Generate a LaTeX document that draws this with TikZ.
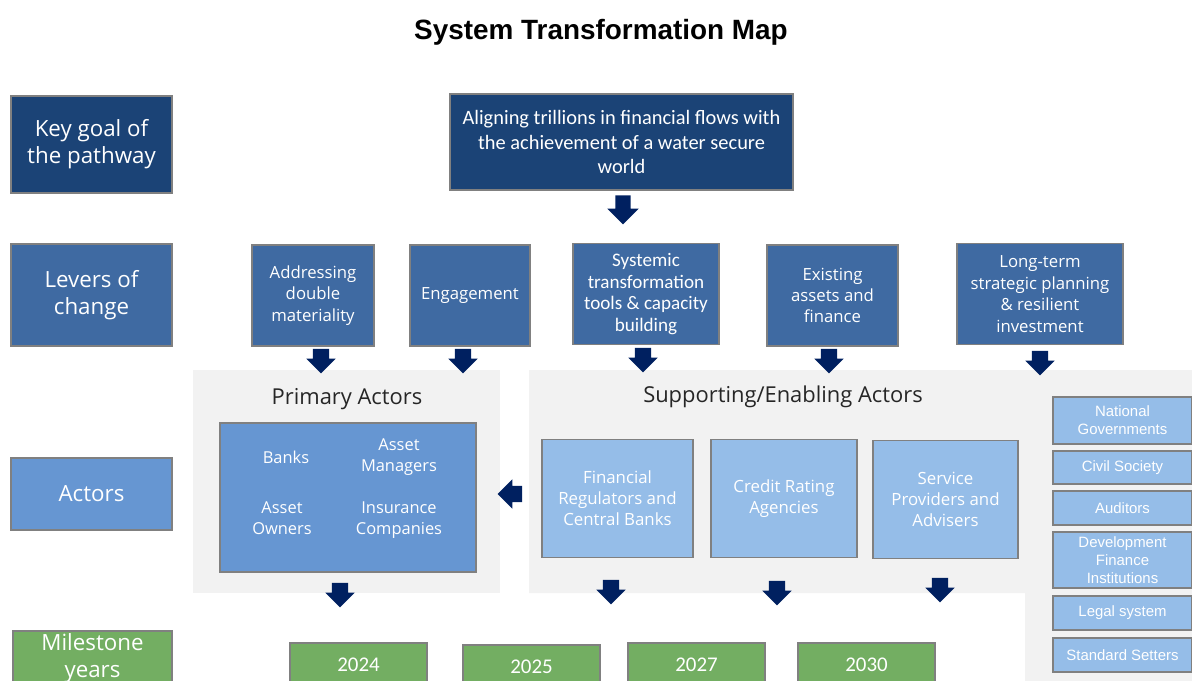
\documentclass[tikz,border=0pt]{standalone}
\usepackage{fontspec}
\setmainfont{Open Sans}
\newfontfamily\calfont{Carlito}
\newfontfamily\arfont{Liberation Sans}
\usetikzlibrary{
  shapes.arrows,
  positioning
}
\definecolor{goalblue}{RGB}{27,67,118}
\definecolor{leverblue}{RGB}{63,106,162}
\definecolor{actorblue}{RGB}{102,150,210}
\definecolor{lightblue}{RGB}{149,189,232}
\definecolor{milegreen}{RGB}{115,174,98}
\definecolor{arrowblue}{RGB}{0,32,96}
\definecolor{panelgray}{RGB}{242,242,242}
\definecolor{edgegray}{RGB}{128,128,128}

\begin{document}
\begin{tikzpicture}[x=1bp,y=-1bp,
      box/.style={
         rectangle,
         draw=edgegray,
         line width=1.2bp,
         inner sep=2bp,
         align=center,
         text=white
      },
      rowlabel/.style={
         box,
         minimum width=161bp,
         font=\fontsize{22.4}{27}\selectfont
      },
      lever/.style={
         box,
         fill=leverblue,
         minimum height=101bp,
         font=\fontsize{16.8}{21.5}\selectfont
      },
      support/.style={
         box,
         fill=lightblue,
         minimum height=118bp,
         font=\fontsize{16.9}{21}\selectfont
      },
      rcbox/.style={
         box,
         fill=lightblue,
         minimum width=139bp,
         inner sep=1bp,
         font=\arfont\fontsize{15}{18}\selectfont
      },
      year/.style={
         box,
         fill=milegreen,
         minimum width=137bp,
         minimum height=44bp,
         font=\calfont\fontsize{21}{24}\selectfont
      },
      itemtext/.style={
         align=center,
         text=white,
         inner sep=0pt,
         font=\fontsize{16.5}{21}\selectfont
      },
      paneltitle/.style={
         text=black!85,
         inner sep=0pt,
         font=\fontsize{22}{26}\selectfont
      },
      blkarrow/.style={
         single arrow,
         fill=arrowblue,
         inner sep=8bp,
         single arrow head extend=6.5bp,
         minimum height=24bp
      },
      darr/.style={blkarrow, rotate=-90},
      larr/.style={blkarrow, rotate=180}
    ]
  \useasboundingbox (0,0) rectangle (1192,681);
  % grey panels behind the actors
  \fill[panelgray] (193,370) rectangle (500,593);
  \fill[panelgray] (529,370) -- (1192,370) -- (1192,690) -- (1025,690)
     -- (1025,593) -- (529,593) -- cycle;

  \node[font=\arfont\bfseries\fontsize{28}{32}\selectfont] (title) at (601,32) {System Transformation Map};

  % row labels
  \node[rowlabel, fill=goalblue, minimum height=97bp] (keygoal) at (91.5,144.5) {Key goal of\\the pathway};
  \node[rowlabel, fill=leverblue, minimum height=102bp] (levers) at (91.5,295) {Levers of\\change};
  \node[rowlabel, fill=actorblue, minimum height=72bp] (actors) at (91.5,494) {Actors};
  \node[rowlabel, fill=milegreen, minimum width=159bp, minimum height=55bp] (milestone) at (92.5,658.5) {Milestone\\years};

  % goal and levers
  \node[box, fill=goalblue, minimum width=343bp, minimum height=96bp,
        font=\calfont\fontsize{20.5}{24.5}\selectfont] (goal) at (621.5,142)
        {Aligning trillions in financial flows with\\the achievement of a water secure\\world};
  \node[darr, minimum height=29bp, single arrow head extend=8bp, inner sep=7.5bp] (g2l) at (623,206) {};

  \node[lever, minimum width=122bp] (lev1) at (313,295.5) {Addressing\\double\\materiality};
  \node[lever, minimum width=120bp] (lev2) at (470,295.5) {Engagement};
  \node[lever, minimum width=146bp, font=\calfont\fontsize{19.2}{21.7}\selectfont] (lev3) at (646,294)
        {Systemic\\transformation\\tools \& capacity\\building};
  \node[lever, minimum width=131bp] (lev4) at (832.5,295.5) {Existing\\assets and\\finance};
  \node[lever, minimum width=166bp] (lev5) at (1040,294) {Long-term\\strategic planning\\\& resilient\\investment};

  \node[darr] (l1a) at (321,357) {};
  \node[darr] (l2a) at (463,357) {};
  \node[darr] (l3a) at (643,356) {};
  \node[darr] (l4a) at (829,357) {};
  \node[darr] (l5a) at (1040,359) {};

  % primary actors
  \node[paneltitle] (primtitle) at (347,399) {Primary Actors};
  \node[box, fill=actorblue, minimum width=256bp, minimum height=149bp] (prim) at (348,497.5) {};
  \node[itemtext] (banks) at (286,457) {Banks};
  \node[itemtext] (managers) at (399,457) {Asset\\Managers};
  \node[itemtext] (owners) at (282,518) {Asset\\Owners};
  \node[itemtext] (insurers) at (399,520) {Insurance\\Companies};
  \node[darr] (pa) at (340,591) {};

  % supporting actors
  \node[paneltitle] (suptitle) at (783,397) {Supporting/Enabling Actors};
  \node[support, minimum width=151bp] (sup1) at (617.5,498.5) {Financial\\Regulators and\\Central Banks};
  \node[support, minimum width=146bp] (sup2) at (784,498.5) {Credit Rating\\Agencies};
  \node[support, minimum width=145bp] (sup3) at (945.5,499.5) {Service\\Providers and\\Advisers};
  \node[larr] (s2p) at (514,494) {};
  \node[darr] (s1a) at (611,588) {};
  \node[darr] (s2a) at (777,589) {};
  \node[darr] (s3a) at (940,586) {};

  % other enabling actors
  \node[rcbox, minimum height=47bp] (rc1) at (1122.5,420.5) {National\\Governments};
  \node[rcbox, minimum height=33bp] (rc2) at (1122.5,467.5) {Civil Society};
  \node[rcbox, minimum height=34bp] (rc3) at (1122.5,508) {Auditors};
  \node[rcbox, minimum height=56bp] (rc4) at (1122.5,560) {Development\\Finance\\Institutions};
  \node[rcbox, minimum height=34bp] (rc5) at (1122.5,613) {Legal system};
  \node[rcbox, minimum height=34bp] (rc6) at (1122.5,655) {Standard Setters};

  % milestone years
  \node[year] (y24) at (358.5,665) {2024};
  \node[year] (y25) at (531.5,667) {2025};
  \node[year] (y27) at (696.5,665) {2027};
  \node[year] (y30) at (866.5,665) {2030};
\end{tikzpicture}
\end{document}
